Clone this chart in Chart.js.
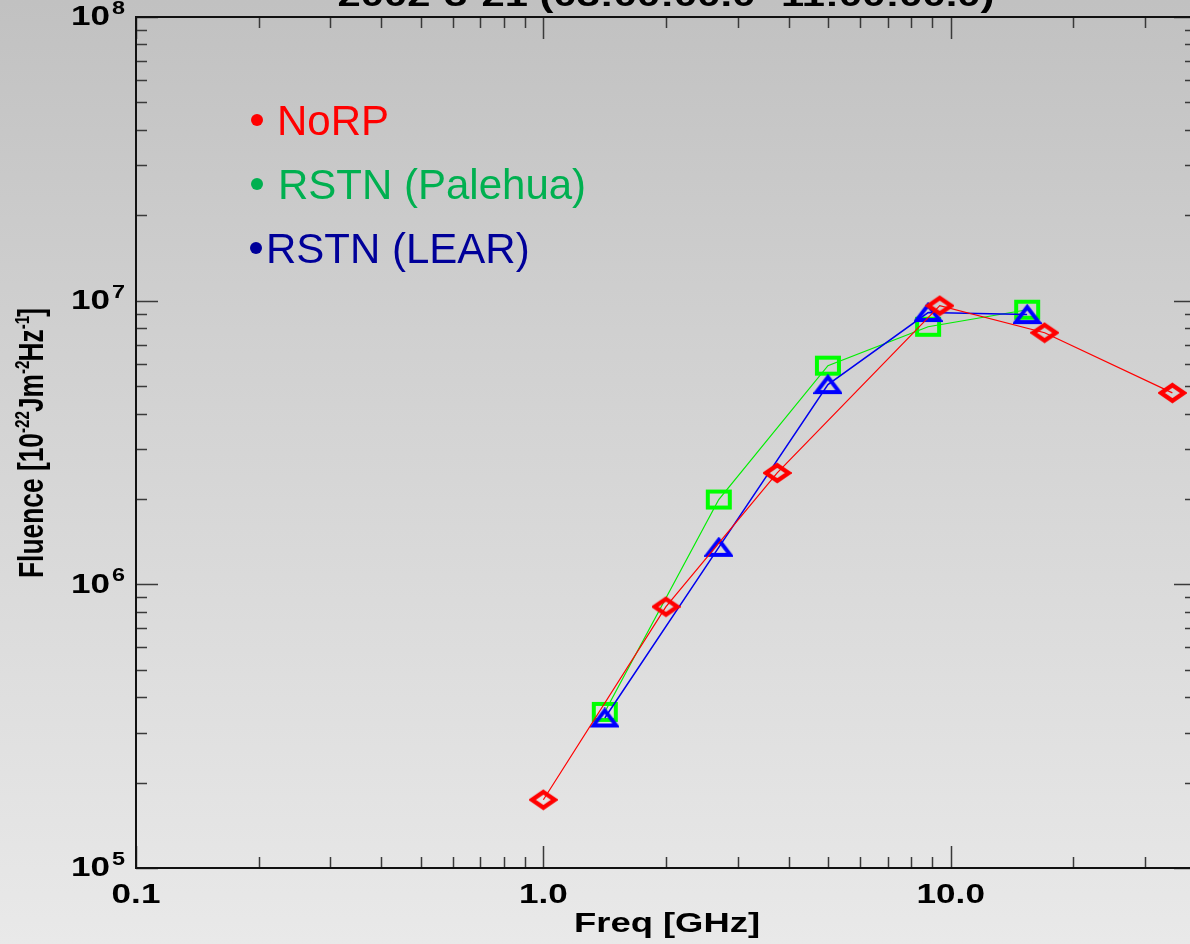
<!DOCTYPE html>
<html>
<head>
<meta charset="utf-8">
<title>Fluence spectrum</title>
<script src="https://cdn.jsdelivr.net/npm/chart.js@4.4.0/dist/chart.umd.min.js"></script>
<style>
    html, body {
        margin: 0;
        padding: 0;
        width: 1190px;
        height: 944px;
        overflow: hidden;
        background: linear-gradient(to bottom, #c1c1c1 0%, #d0d0d0 35%, #e9e9e9 100%);
    }
    #wrap { position: absolute; left: 0; top: 0; width: 1220px; height: 944px; }
</style>
</head>
<body>
<div id="wrap"><canvas id="fluenceChart" width="1220" height="944"></canvas></div>
<script>
// Frequencies (GHz) and fluence values (10^-22 J m^-2 Hz^-1)
const norpFreq = [1.0, 2.0, 3.75, 9.4, 17.0, 35.0];
const norpFluence = [1.74e5, 8.34e5, 2.47e6, 9.6e6, 7.71e6, 4.73e6];
const rstnFreq = [1.415, 2.695, 4.995, 8.8, 15.4];
const palehuaFluence = [3.55e5, 1.99e6, 5.90e6, 8.09e6, 9.29e6];
const learFluence = [3.38e5, 1.35e6, 5.06e6, 9.08e6, 8.93e6];

const seriesNames = ['NoRP', 'RSTN (Palehua)', 'RSTN (LEAR)'];
const legendColors = ['#ff0000', '#00b050', '#000099'];

const xTickValues = [0.1, 1, 10];
const xTickLabels = ['0.1', '1.0', '10.0'];
const yTickValues = [1e5, 1e6, 1e7, 1e8];
const yTickExponents = ['5', '6', '7', '8'];

const titleText = '2002-3-21 (03:00:00.0 -11:00:00.0)';
const xTitle = 'Freq [GHz]';

const FONT = '"Liberation Sans", Arial, Helvetica, sans-serif';

// Outline markers, a bit wider than tall like the stretched original
function makeMarker(shape, color, w, h, lw) {
    const c = document.createElement('canvas');
    c.width = w + 2;
    c.height = h + 2;
    const g = c.getContext('2d');
    g.strokeStyle = color;
    g.lineWidth = lw;
    g.lineJoin = 'miter';
    const cx = c.width / 2, cy = c.height / 2;
    const hw = w / 2 - lw / 2, hh = h / 2 - lw / 2;
    g.beginPath();
    if (shape === 'diamond') {
        g.moveTo(cx, cy - hh);
        g.lineTo(cx + hw, cy);
        g.lineTo(cx, cy + hh);
        g.lineTo(cx - hw, cy);
        g.closePath();
    } else if (shape === 'square') {
        g.rect(cx - hw, cy - hh, hw * 2, hh * 2);
    } else {
        g.moveTo(cx, cy - hh);
        g.lineTo(cx + hw, cy + hh);
        g.lineTo(cx - hw, cy + hh);
        g.closePath();
    }
    g.stroke();
    return c;
}

function toPoints(xs, ys) {
    return xs.map((x, i) => ({ x: x, y: ys[i] }));
}

function minorTicks(min, max) {
    const out = [];
    for (let d = Math.floor(Math.log10(min)); d <= Math.ceil(Math.log10(max)); d++) {
        for (let m = 1; m <= 9; m++) {
            const v = m * Math.pow(10, d);
            if (v >= min * 0.999 && v <= max * 1.001) out.push(v);
        }
    }
    return out;
}

function isDecade(v) {
    const l = Math.log10(v);
    return Math.abs(l - Math.round(l)) < 1e-6;
}

// text squeezed / stretched horizontally like the IDL image on the slide
function stretchText(ctx, text, x, y, sx, align) {
    ctx.save();
    ctx.translate(x, y);
    ctx.scale(sx, 1);
    ctx.textAlign = align;
    ctx.fillText(text, 0, 0);
    ctx.restore();
}

const idlAxes = {
    id: 'idlAxes',
    afterDraw(chart) {
        const ctx = chart.ctx;
        const area = chart.chartArea;
        const xs = chart.scales.x;
        const ys = chart.scales.y;

        ctx.save();
        // tick marks (inward, on all four sides)
        ctx.strokeStyle = '#3a3a3a';
        ctx.lineWidth = 1.5;
        minorTicks(xs.min, xs.max).forEach(v => {
            const px = Math.round(xs.getPixelForValue(v)) + 0.5;
            const len = isDecade(v) ? 22 : 11;
            ctx.beginPath();
            ctx.moveTo(px, area.bottom);
            ctx.lineTo(px, area.bottom - len);
            ctx.moveTo(px, area.top);
            ctx.lineTo(px, area.top + len);
            ctx.stroke();
        });
        minorTicks(ys.min, ys.max).forEach(v => {
            const py = Math.round(ys.getPixelForValue(v)) + 0.5;
            const len = isDecade(v) ? 22 : 11;
            ctx.beginPath();
            ctx.moveTo(area.left, py);
            ctx.lineTo(area.left + len, py);
            ctx.moveTo(area.right, py);
            ctx.lineTo(area.right - len, py);
            ctx.stroke();
        });

        // plot box
        ctx.strokeStyle = '#111';
        ctx.lineWidth = 2;
        ctx.strokeRect(area.left, area.top, area.right - area.left, area.bottom - area.top);

        ctx.fillStyle = '#000';
        // x tick labels
        ctx.font = 'bold 27px ' + FONT;
        ctx.textBaseline = 'alphabetic';
        xTickValues.forEach((v, i) => {
            stretchText(ctx, xTickLabels[i], xs.getPixelForValue(v), 903, 1.3, 'center');
        });
        // y tick labels: 10 with exponent
        yTickValues.forEach((v, i) => {
            const py = ys.getPixelForValue(v);
            ctx.font = 'bold 27px ' + FONT;
            ctx.textBaseline = 'middle';
            stretchText(ctx, '10', 110, py + 1, 1.3, 'right');
            ctx.font = 'bold 18px ' + FONT;
            ctx.textBaseline = 'alphabetic';
            stretchText(ctx, yTickExponents[i], 112, py - 3, 1.3, 'left');
        });

        // x axis title
        ctx.font = 'bold 28px ' + FONT;
        ctx.textBaseline = 'alphabetic';
        stretchText(ctx, xTitle, 667, 932, 1.3, 'center');

        // title, mostly cut off by the top edge
        ctx.font = 'bold 32px ' + FONT;
        const tw = ctx.measureText(titleText).width;
        stretchText(ctx, titleText, 666, 6, 657 / tw, 'center');

        // rotated y axis title with superscripts
        const parts = [
            ['Fluence [10', false], ['-22', true], ['Jm', false], ['-2', true],
            ['Hz', false], ['-1', true], [']', false]
        ];
        const big = 'bold 26px ' + FONT, small = 'bold 15px ' + FONT;
        let total = 0;
        parts.forEach(p => {
            ctx.font = p[1] ? small : big;
            total += ctx.measureText(p[0]).width - (p[1] ? 1 : 0);
        });
        ctx.save();
        ctx.translate(43, 578);
        ctx.rotate(-Math.PI / 2);
        ctx.scale(270 / total, 1.37);
        ctx.textAlign = 'left';
        let cx = 0;
        parts.forEach(p => {
            ctx.font = p[1] ? small : big;
            ctx.fillText(p[0], cx, p[1] ? -10 : 0);
            cx += ctx.measureText(p[0]).width - (p[1] ? 1 : 0);
        });
        ctx.restore();

        // slide legend with bullets
        ctx.font = '42px ' + FONT;
        ctx.textBaseline = 'alphabetic';
        ctx.textAlign = 'left';
        const legendRows = [
            { bx: 257, by: 120, tx: 277, ty: 135 },
            { bx: 257, by: 184, tx: 278, ty: 199 },
            { bx: 256, by: 248, tx: 266, ty: 263 }
        ];
        legendRows.forEach((r, i) => {
            ctx.fillStyle = legendColors[i];
            ctx.beginPath();
            ctx.arc(r.bx, r.by, 6, 0, Math.PI * 2);
            ctx.fill();
            ctx.fillText(seriesNames[i], r.tx, r.ty);
        });
        ctx.restore();
    }
};

const ctx = document.getElementById('fluenceChart').getContext('2d');
const chart = new Chart(ctx, {
    type: 'line',
    data: {
        datasets: [{
            label: seriesNames[0],
            data: toPoints(norpFreq, norpFluence),
            borderColor: '#ff0000',
            borderWidth: 1.2,
            pointStyle: makeMarker('diamond', '#ff0000', 27, 20, 4.5),
            order: 0
        }, {
            label: seriesNames[1],
            data: toPoints(rstnFreq, palehuaFluence),
            borderColor: '#00ee00',
            borderWidth: 1.2,
            pointStyle: makeMarker('square', '#00ff00', 26, 20, 4),
            order: 2
        }, {
            label: seriesNames[2],
            data: toPoints(rstnFreq, learFluence),
            borderColor: '#0000ee',
            borderWidth: 1.5,
            pointStyle: makeMarker('triangle', '#0000ff', 27, 19, 4),
            order: 1
        }]
    },
    options: {
        responsive: false,
        animation: false,
        layout: {
            padding: { left: 136, right: 24, top: 17, bottom: 76 }
        },
        scales: {
            x: { type: 'logarithmic', min: 0.1, max: 40, display: false },
            y: { type: 'logarithmic', min: 1e5, max: 1e8, display: false }
        },
        plugins: {
            legend: { display: false },
            tooltip: { enabled: false }
        }
    },
    plugins: [idlAxes]
});
</script>
</body>
</html>
